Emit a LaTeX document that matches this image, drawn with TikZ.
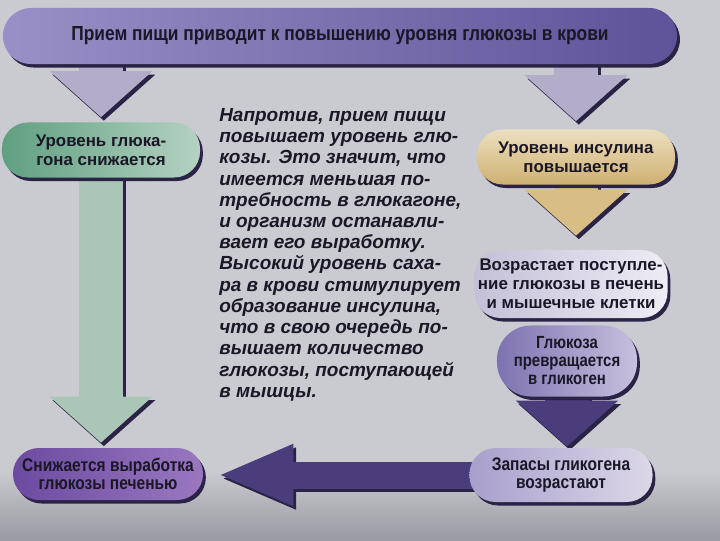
\documentclass[tikz,border=0pt]{standalone}
\usepackage{fontspec}
\setmainfont{Liberation Sans}
\newfontfamily\narrowsans[FakeStretch=0.85]{Liberation Sans}
\usetikzlibrary{arrows.meta,shadows}

\definecolor{bgtop}{HTML}{CACBD0}
\definecolor{bgbot}{HTML}{9A9AA3}
\definecolor{shadowcol}{HTML}{2B2346}
\definecolor{inkcol}{HTML}{1A1726}
\definecolor{lavcol}{HTML}{B3ADCA}
\definecolor{greencol}{HTML}{A9C6B6}
\definecolor{tancol}{HTML}{D8BD84}
\definecolor{palecol}{HTML}{CDC9DD}
\definecolor{deepcol}{HTML}{4B3C7C}
\definecolor{topleft}{HTML}{9890C6}
\definecolor{topright}{HTML}{5E5298}
\definecolor{gluleft}{HTML}{5F9F80}
\definecolor{gluright}{HTML}{B5D2C2}
\definecolor{insup}{HTML}{ECDFC0}
\definecolor{insdown}{HTML}{CFB070}
\definecolor{uptleft}{HTML}{C4C0D8}
\definecolor{uptright}{HTML}{EEECF4}
\definecolor{glyleft}{HTML}{7D72B0}
\definecolor{glyright}{HTML}{C8C0DE}
\definecolor{stoleft}{HTML}{A89FCC}
\definecolor{storight}{HTML}{DCD8E8}
\definecolor{relleft}{HTML}{6C4AA0}
\definecolor{relright}{HTML}{9A78C0}

\pgfdeclarelayer{back}
\pgfdeclarelayer{mid}
\pgfsetlayers{back,mid,main}

\tikzset{
  box/.style={rounded corners=0.65cm, inner sep=0pt, align=center, text=inkcol,
    font=\bfseries\fontsize{12}{13.5}\selectfont,
    drop shadow={shadow xshift=2pt, shadow yshift=-2.5pt, fill=shadowcol, opacity=1}},
  narrowbox/.style={box, font=\narrowsans\bfseries\fontsize{13}{12.8}\selectfont},
  blockarrow/.style={line width=1.1cm, -{Triangle[width=2.5cm,length=1.15cm]}},
  arrowshadow/.style={blockarrow, draw=shadowcol, transform canvas={shift={(2pt,-2.5pt)}}}
}

\begin{document}
\begin{tikzpicture}[x=0.025cm,y=-0.025cm]
\useasboundingbox (0,0) rectangle (720,540);
\begin{pgfonlayer}{back}
\fill[bgtop] (0,0) rectangle (720,540);
\shade[top color=bgtop, bottom color=bgbot] (0,470) rectangle (720,540);
\end{pgfonlayer}

% boxes
\node[narrowbox, left color=topleft, right color=topright,
  minimum width=16.85cm, minimum height=1.4cm, rounded corners=0.7cm,
  font=\narrowsans\bfseries\fontsize{14.5}{16}\selectfont] (top) at (340,36)
  {Прием пищи приводит к повышению уровня глюкозы в крови};
\node[box, left color=gluleft, right color=gluright,
  minimum width=4.95cm, minimum height=1.375cm] (glucagon) at (101,150)
  {Уровень глюка-\\гона снижается};
\node[box, top color=insup, bottom color=insdown,
  minimum width=4.95cm, minimum height=1.375cm] (insulin) at (576,157)
  {Уровень инсулина\\повышается};
\node[box, left color=uptleft, right color=uptright,
  minimum width=4.825cm, minimum height=1.7cm] (uptake) at (571,284)
  {Возрастает поступле-\\ние глюкозы в печень\\и мышечные клетки};
\node[narrowbox, left color=glyleft, right color=glyright,
  minimum width=3.5cm, minimum height=1.775cm, rounded corners=0.85cm,
  font=\narrowsans\bfseries\fontsize{12.5}{12.8}\selectfont] (glycogen) at (567,361)
  {Глюкоза\\превращается\\в гликоген};
\node[narrowbox, left color=stoleft, right color=storight,
  minimum width=4.575cm, minimum height=1.35cm] (stores) at (561,475)
  {Запасы гликогена\\возрастают};
\node[narrowbox, left color=relleft, right color=relright,
  minimum width=4.75cm, minimum height=1.3cm] (release) at (108,474)
  {Снижается выработка\\глюкозы печенью};

% text in the middle
\node[anchor=north west, align=left, inner sep=0pt, text=inkcol,
  font=\bfseries\itshape\fontsize{13.5}{15.1}\selectfont] (note) at (219,108)
  {Напротив, прием пищи\\повышает уровень глю-\\козы. Это значит, что\\имеется меньшая по-\\требность в глюкагоне,\\и организм останавли-\\вает его выработку.\\Высокий уровень саха-\\ра в крови стимулирует\\образование инсулина,\\что в свою очередь по-\\вышает количество\\глюкозы, поступающей\\в мышцы.};

% arrows
\begin{pgfonlayer}{mid}
\draw[arrowshadow, shorten >=0.125cm] (top.center -| glucagon.center) -- (glucagon.north);
\draw[blockarrow, draw=lavcol, shorten >=0.125cm] (top.center -| glucagon.center) -- (glucagon.north);
\draw[arrowshadow, shorten >=0.2cm] (top.center -| insulin.center) -- (insulin.north);
\draw[blockarrow, draw=lavcol, shorten >=0.2cm] (top.center -| insulin.center) -- (insulin.north);
\draw[arrowshadow, shorten >=0.125cm] (glucagon.center) -- (glucagon.center |- release.north);
\draw[blockarrow, draw=greencol, shorten >=0.125cm] (glucagon.center) -- (glucagon.center |- release.north);
\draw[arrowshadow, shorten >=0.35cm] (insulin.center) -- (insulin.center |- uptake.north);
\draw[blockarrow, draw=tancol, shorten >=0.35cm] (insulin.center) -- (insulin.center |- uptake.north);
\draw[line width=1.1cm, draw=palecol] (uptake.center -| glycogen.center) -- (glycogen.center);
\draw[arrowshadow, shorten >=0.03cm] (glycogen.center) -- (glycogen.center |- stores.north);
\draw[blockarrow, draw=deepcol, shorten >=0.03cm] (glycogen.center) -- (glycogen.center |- stores.north);
\draw[arrowshadow, line width=0.675cm, -{Triangle[width=1.4cm,length=1.9cm]}, shorten >=0.35cm]
  (stores.center) -- (stores.center -| release.east);
\draw[blockarrow, draw=deepcol, line width=0.675cm, -{Triangle[width=1.4cm,length=1.9cm]}, shorten >=0.35cm]
  (stores.center) -- (stores.center -| release.east);
\end{pgfonlayer}
\end{tikzpicture}
\end{document}
